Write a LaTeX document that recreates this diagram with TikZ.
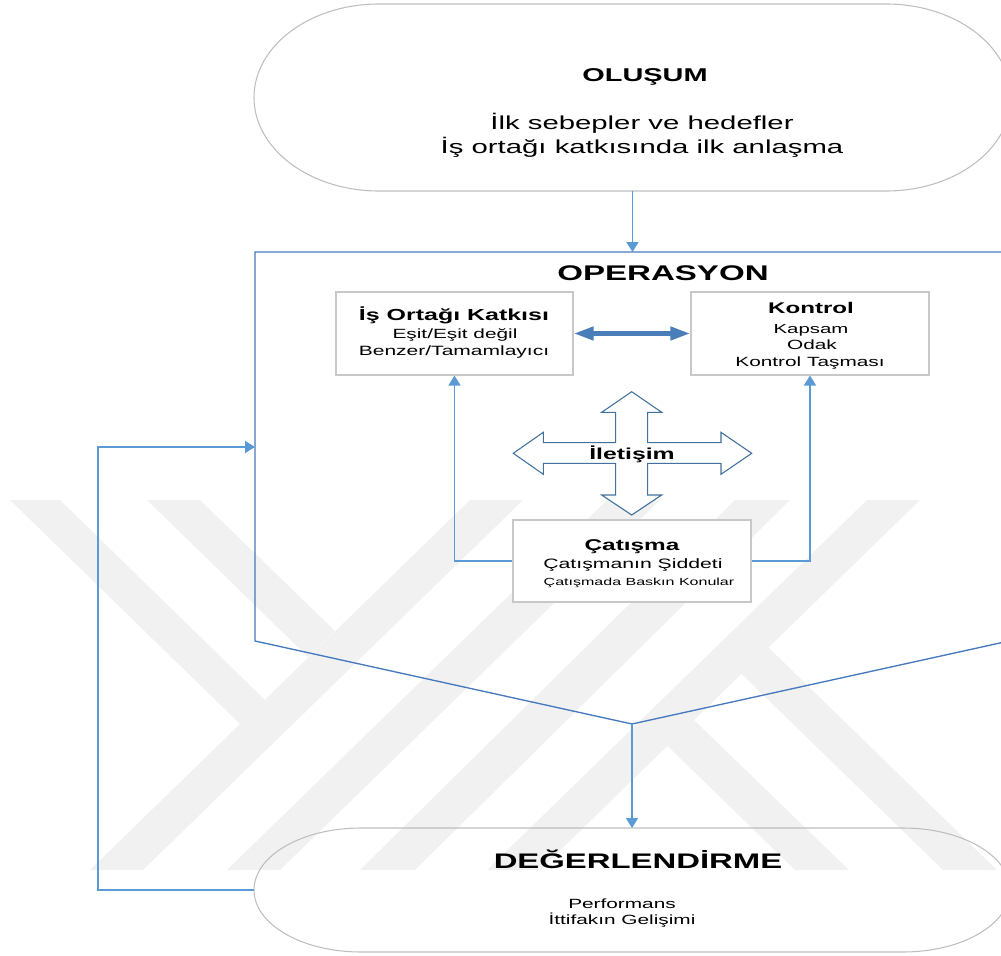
\documentclass[tikz,border=0pt]{standalone}
\usepackage{fontspec}
\setmainfont{Liberation Sans}[FakeStretch=1.56]
\usetikzlibrary{arrows.meta,shadows}

\definecolor{wmgray}{RGB}{241,241,241}
\definecolor{connblue}{RGB}{91,155,213}
\definecolor{frameblue}{RGB}{70,120,190}
\definecolor{crossblue}{RGB}{65,113,156}
\definecolor{arrowblue}{RGB}{74,126,187}
\definecolor{boxgray}{RGB}{200,200,200}
\definecolor{termgray}{RGB}{190,190,190}

\begin{document}
\begin{tikzpicture}[
  x=0.75pt, y=-0.75pt,
  wm/.style={fill=wmgray},
  conn/.style={draw=connblue, line width=1.3pt, -{Triangle[length=7.5pt,width=9pt]}},
  framel/.style={draw=frameblue, line width=1pt},
  panel/.style={draw=boxgray, line width=0.8pt, fill=white, inner sep=0pt,
    drop shadow={opacity=0.18, shadow xshift=1pt, shadow yshift=-1pt}},
  term/.style={draw=termgray, line width=0.8pt},
  area/.style={inner sep=0pt, outer sep=0pt},
  txt/.style={anchor=base, inner sep=0pt, text=black},
  tn/.style={txt, font=\fontsize{#1}{#1}\selectfont},
  tb/.style={txt, font=\fontsize{#1}{#1}\selectfont\bfseries},
  crossline/.style={draw=crossblue, line width=0.8pt, fill=white, line join=miter},
  dbl/.style={draw=arrowblue, line width=3.6pt,
    {Triangle[length=15pt,width=9.5pt]}-{Triangle[length=15pt,width=9.5pt]}}
]
\useasboundingbox (0,0) rectangle (1001,956);

% ---- background logo bands ----
\fill[wm] (10,500) -- (60,500) -- (265,700) -- (240,724) -- cycle;
\fill[wm] (147,500) -- (200,500) -- (335,631) -- (308,657) -- cycle;
\fill[wm] (470,500) -- (523,500) -- (143,870) -- (90,870) -- cycle;
\fill[wm] (607,500) -- (660,500) -- (280,870) -- (227,870) -- cycle;
\fill[wm] (735,500) -- (790,500) -- (415,870) -- (360,870) -- cycle;
\fill[wm] (867,500) -- (920,500) -- (540,870) -- (487,870) -- cycle;
\fill[wm] (741.5,673.8) -- (768.5,647.5) -- (997,870) -- (943,870) -- cycle;
\fill[wm] (667.5,745.9) -- (694,720.1) -- (849,870) -- (795,870) -- cycle;

% ---- layout areas ----
\node[area, minimum width=567.75pt, minimum height=140.25pt] (olusum) at (632.5,97.5) {};
\node[area, minimum width=565.5pt, minimum height=291.75pt] (oper) at (632,446.5) {};
\node[area, minimum width=567pt, minimum height=93pt] (deg) at (632,890) {};
\coordinate (vtx) at (632,724);
\coordinate (fb) at (98,447);

% ---- OPERASYON frame ----
\draw[framel] (oper.north west) -- (oper.north east) -- (oper.south east)
  -- (vtx) -- (oper.south west) -- cycle;

% ---- terminators ----
\draw[term] ([xshift=93.75pt]olusum.north west) -- ([xshift=-93.75pt]olusum.north east)
  arc[start angle=90, end angle=-90, x radius=93.75pt, y radius=70.125pt]
  -- ([xshift=93.75pt]olusum.south west)
  arc[start angle=270, end angle=90, x radius=93.75pt, y radius=70.125pt] -- cycle;
\draw[term] ([xshift=80.25pt]deg.north west) -- ([xshift=-80.25pt]deg.north east)
  arc[start angle=90, end angle=-90, x radius=80.25pt, y radius=46.5pt]
  -- ([xshift=80.25pt]deg.south west)
  arc[start angle=270, end angle=90, x radius=80.25pt, y radius=46.5pt] -- cycle;

% ---- inner boxes ----
\node[panel, minimum width=177.75pt, minimum height=62.25pt] (iok) at (454.5,333.5) {};
\node[panel, minimum width=178.5pt, minimum height=62.25pt] (kontrol) at (810,333.5) {};
\node[panel, minimum width=178.5pt, minimum height=61.5pt] (catisma) at (632,561) {};

% ---- connectors ----
\draw[conn] (olusum.south) -- (olusum.south |- oper.north);
\draw[conn] (vtx) -- (deg.north);
\draw[conn] (deg.west) -| (fb) -- (fb -| oper.west);
\draw[conn] (catisma.west) -| (iok.south);
\draw[conn] (catisma.east) -| (kontrol.south);
\draw[dbl] (iok.east) -- (kontrol.west);

% ---- four-way arrow ----
\draw[crossline] (631.7,391.7) -- (661.7,412.3) -- (647.7,412.3) -- (647.7,442.7)
  -- (721,442.7) -- (721,432.3) -- (751.7,453.3) -- (721,474.3) -- (721,463.3)
  -- (647.7,463.3) -- (647.7,495) -- (661.7,495) -- (631.7,515) -- (601.7,495)
  -- (615.7,495) -- (615.7,463.3) -- (543.3,463.3) -- (543.3,474.3) -- (513.3,453.3)
  -- (543.3,432.3) -- (543.3,442.7) -- (615.7,442.7) -- (615.7,412.3) -- (601.7,412.3)
  -- cycle;

% ---- texts ----
\node[tb=13.9] (t-olusum) at (645,81.7) {OLUŞUM};
\node[tn=14.1] (t-olusum1) at (642,129.3) {İlk sebepler ve hedefler};
\node[tn=14.1] (t-olusum2) at (642,153.3) {İş ortağı katkısında ilk anlaşma};

\node[tb=15.9] (t-oper) at (663,280) {OPERASYON};

\node[tb=12] (t-iok) at (454,320) {İş Ortağı Katkısı};
\node[tn=10] (t-iok1) at (455,338) {Eşit/Eşit değil};
\node[tn=10.1] (t-iok2) at (454,355) {Benzer/Tamamlayıcı};

\node[tb=11.6] (t-kon) at (811,313) {Kontrol};
\node[tn=9.8] (t-kon1) at (811,333) {Kapsam};
\node[tn=10] (t-kon2) at (812,349) {Odak};
\node[tn=10] (t-kon3) at (810,366) {Kontrol Taşması};

\node[tb=11.9] (t-ilet) at (632,459) {İletişim};

\node[tb=11.7] (t-cat) at (632,550) {Çatışma};
\node[tn=10.2] (t-cat1) at (633,568) {Çatışmanın Şiddeti};
\node[tn=7.7] (t-cat2) at (639,585) {Çatışmada Baskın Konular};

\node[tb=15.8] (t-deg) at (638,868) {DEĞERLENDİRME};
\node[tn=10] (t-deg1) at (622,908) {Performans};
\node[tn=10] (t-deg2) at (622,924) {İttifakın Gelişimi};
\end{tikzpicture}
\end{document}
